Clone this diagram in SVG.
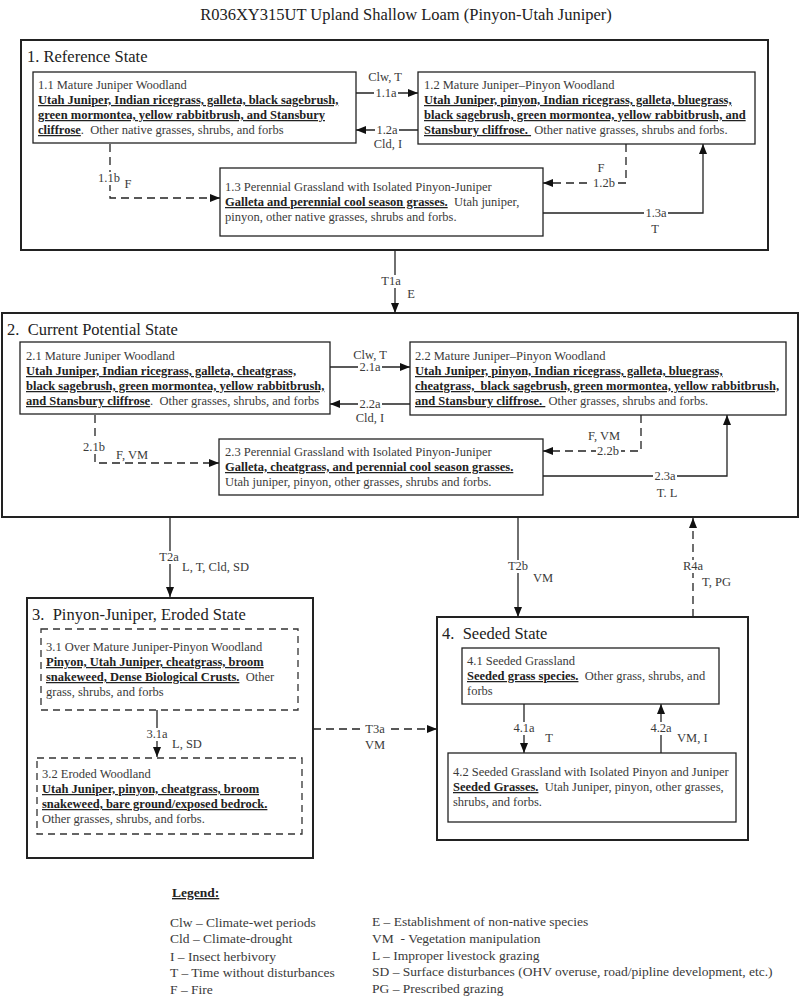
<svg xmlns="http://www.w3.org/2000/svg" width="800" height="1000" viewBox="0 0 800 1000">
<defs>
<marker id="arr" markerUnits="userSpaceOnUse" markerWidth="10" markerHeight="8" refX="10" refY="4" orient="auto"><path d="M0,0 L10,4 L0,8 z" fill="#111"/></marker>
<style>
text{font-family:"Liberation Serif","Times New Roman",serif;fill:#3a3a3a}
.t{font-size:12.5px}
.b{font-weight:bold;text-decoration:underline;fill:#222}
.st{font-size:16.5px;fill:#222}
.state{fill:none;stroke:#222;stroke-width:2}
.box{fill:#fff;stroke:#222;stroke-width:1.3}
.dbox{fill:#fff;stroke:#333;stroke-width:1.3;stroke-dasharray:7,5}
.c{fill:none;stroke:#222;stroke-width:1.3}
.d{stroke-dasharray:8,5}
.bg{fill:#fff}
.lbl{font-size:12.5px;fill:#3a3a3a}
.lg{font-size:13.5px}
</style>
</defs>
<rect width="800" height="1000" fill="#fff"/>
<text x="406" y="20" text-anchor="middle" style="font-size:16.5px;fill:#222">R036XY315UT Upland Shallow Loam (Pinyon-Utah Juniper)</text>

<g id="state1">
<rect class="state" x="21" y="40" width="747" height="210"/>
<text class="st" x="27" y="62">1. Reference State</text>
</g>
<g id="state2">
<rect class="state" x="2" y="313" width="796" height="204"/>
<text class="st" x="7" y="335">2.&#160; Current Potential State</text>
</g>
<g id="state3">
<rect class="state" x="27" y="598" width="286" height="260"/>
<text class="st" x="32" y="620">3.&#160; Pinyon-Juniper, Eroded State</text>
</g>
<g id="state4">
<rect class="state" x="437" y="617" width="311" height="223"/>
<text class="st" x="442" y="639">4.&#160; Seeded State</text>
</g>

<g id="connectors">
<path class="c" d="M356,93 H418" marker-end="url(#arr)"/>
<path class="c" d="M418,130 H356" marker-end="url(#arr)"/>
<path class="c d" d="M110,144 V198 H220" marker-end="url(#arr)"/>
<path class="c d" d="M626,144 V183 H543" marker-end="url(#arr)"/>
<path class="c" d="M543,213 H703 V144" marker-end="url(#arr)"/>
<path class="c" d="M395,250 V313" marker-end="url(#arr)"/>
<path class="c" d="M330,367 H410" marker-end="url(#arr)"/>
<path class="c" d="M410,404 H330" marker-end="url(#arr)"/>
<path class="c d" d="M95,415 V463 H219" marker-end="url(#arr)"/>
<path class="c d" d="M641,415 V451 H543" marker-end="url(#arr)"/>
<path class="c" d="M543,476 H727 V415" marker-end="url(#arr)"/>
<path class="c" d="M170,517 V597" marker-end="url(#arr)"/>
<path class="c" d="M518,517 V617" marker-end="url(#arr)"/>
<path class="c d" d="M693,617 V518" marker-end="url(#arr)"/>
<path class="c d" d="M313,729 H437" marker-end="url(#arr)"/>
<path class="c" d="M157,710 V757" marker-end="url(#arr)"/>
<path class="c" d="M524,704 V753" marker-end="url(#arr)"/>
<path class="c" d="M661,753 V704" marker-end="url(#arr)"/>
<rect class="bg" x="374" y="89" width="24" height="8"/>
<rect class="bg" x="375" y="126" width="24" height="8"/>
<rect class="bg" x="592" y="179" width="25" height="8"/>
<rect class="bg" x="644" y="209" width="24" height="8"/>
<rect class="bg" x="358" y="363" width="24" height="8"/>
<rect class="bg" x="358" y="400" width="24" height="8"/>
<rect class="bg" x="596" y="447" width="25" height="8"/>
<rect class="bg" x="653" y="472" width="24" height="8"/>
<rect class="bg" x="364" y="725" width="22" height="8"/>
<rect class="bg" x="106" y="172" width="8" height="13"/>
<rect class="bg" x="391" y="275" width="8" height="13"/>
<rect class="bg" x="91" y="441" width="8" height="13"/>
<rect class="bg" x="166" y="551" width="8" height="13"/>
<rect class="bg" x="514" y="560" width="8" height="13"/>
<rect class="bg" x="689" y="560" width="8" height="13"/>
<rect class="bg" x="153" y="728" width="8" height="13"/>
<rect class="bg" x="520" y="722" width="8" height="13"/>
<rect class="bg" x="657" y="722" width="8" height="13"/>
<text class="lbl" x="385" y="81" text-anchor="middle">Clw, T</text>
<text class="lbl" x="386" y="97" text-anchor="middle">1.1a</text>
<text class="lbl" x="387" y="134" text-anchor="middle">1.2a</text>
<text class="lbl" x="388" y="148" text-anchor="middle">Cld, I</text>
<text class="lbl" x="109" y="182" text-anchor="middle">1.1b</text>
<text class="lbl" x="128" y="188" text-anchor="middle">F</text>
<text class="lbl" x="604" y="187" text-anchor="middle">1.2b</text>
<text class="lbl" x="601" y="172" text-anchor="middle">F</text>
<text class="lbl" x="656" y="217" text-anchor="middle">1.3a</text>
<text class="lbl" x="655" y="233" text-anchor="middle">T</text>
<text class="lbl" x="391" y="285" text-anchor="middle">T1a</text>
<text class="lbl" x="411" y="298" text-anchor="middle">E</text>
<text class="lbl" x="370" y="359" text-anchor="middle">Clw, T</text>
<text class="lbl" x="370" y="371" text-anchor="middle">2.1a</text>
<text class="lbl" x="370" y="408" text-anchor="middle">2.2a</text>
<text class="lbl" x="370" y="422" text-anchor="middle">Cld, I</text>
<text class="lbl" x="94" y="451" text-anchor="middle">2.1b</text>
<text class="lbl" x="132" y="459" text-anchor="middle">F, VM</text>
<text class="lbl" x="608" y="455" text-anchor="middle">2.2b</text>
<text class="lbl" x="604" y="440" text-anchor="middle">F, VM</text>
<text class="lbl" x="665" y="480" text-anchor="middle">2.3a</text>
<text class="lbl" x="667" y="497" text-anchor="middle">T. L</text>
<text class="lbl" x="169" y="561" text-anchor="middle">T2a</text>
<text class="lbl" x="182" y="571">L, T, Cld, SD</text>
<text class="lbl" x="518" y="570" text-anchor="middle">T2b</text>
<text class="lbl" x="533" y="582">VM</text>
<text class="lbl" x="693" y="570" text-anchor="middle">R4a</text>
<text class="lbl" x="702" y="586">T, PG</text>
<text class="lbl" x="375" y="733" text-anchor="middle">T3a</text>
<text class="lbl" x="375" y="749" text-anchor="middle">VM</text>
<text class="lbl" x="157" y="738" text-anchor="middle">3.1a</text>
<text class="lbl" x="172" y="748">L, SD</text>
<text class="lbl" x="524" y="732" text-anchor="middle">4.1a</text>
<text class="lbl" x="549" y="742" text-anchor="middle">T</text>
<text class="lbl" x="661" y="732" text-anchor="middle">4.2a</text>
<text class="lbl" x="677" y="742">VM, I</text>
</g>

<g id="n11">
<rect class="box" x="33" y="72" width="323" height="71"/>
<text class="t" x="38" y="89">1.1 Mature Juniper Woodland</text>
<text class="t b" x="38" y="104">Utah Juniper, Indian ricegrass, galleta, black sagebrush,</text>
<text class="t b" x="38" y="119">green mormontea, yellow rabbitbrush, and Stansbury</text>
<text class="t" x="38" y="134"><tspan class="b">cliffrose</tspan>.&#160; Other native grasses, shrubs, and forbs</text>
</g>
<g id="n12">
<rect class="box" x="418" y="72" width="337" height="72"/>
<text class="t" x="424" y="89">1.2 Mature Juniper–Pinyon Woodland</text>
<text class="t b" x="424" y="104">Utah Juniper, pinyon, Indian ricegrass, galleta, bluegrass,</text>
<text class="t b" x="424" y="119">black sagebrush, green mormontea, yellow rabbitbrush, and</text>
<text class="t" x="424" y="134"><tspan class="b">Stansbury cliffrose.&#160;</tspan> Other native grasses, shrubs and forbs.</text>
</g>
<g id="n13">
<rect class="box" x="220" y="168" width="323" height="68"/>
<text class="t" x="225" y="191">1.3 Perennial Grassland with Isolated Pinyon-Juniper</text>
<text class="t" x="225" y="206"><tspan class="b">Galleta and perennial cool season grasses.</tspan>&#160; Utah juniper,</text>
<text class="t" x="225" y="221">pinyon, other native grasses, shrubs and forbs.</text>
</g>

<g id="n21">
<rect class="box" x="20" y="342" width="310" height="72"/>
<text class="t" x="26" y="360">2.1 Mature Juniper Woodland</text>
<text class="t b" x="26" y="375">Utah Juniper, Indian ricegrass, galleta, cheatgrass,</text>
<text class="t b" x="26" y="390">black sagebrush, green mormontea, yellow rabbitbrush,</text>
<text class="t" x="26" y="405"><tspan class="b">and Stansbury cliffrose</tspan>.&#160; Other grasses, shrubs, and forbs</text>
</g>
<g id="n22">
<rect class="box" x="410" y="342" width="376" height="73"/>
<text class="t" x="415" y="360">2.2 Mature Juniper–Pinyon Woodland</text>
<text class="t b" x="415" y="375">Utah Juniper, pinyon, Indian ricegrass, galleta, bluegrass,</text>
<text class="t b" x="415" y="390">cheatgrass,&#160; black sagebrush, green mormontea, yellow rabbitbrush,</text>
<text class="t" x="415" y="405"><tspan class="b">and Stansbury cliffrose.&#160;</tspan> Other grasses, shrubs and forbs.</text>
</g>
<g id="n23">
<rect class="box" x="219" y="439" width="324" height="56"/>
<text class="t" x="225" y="456">2.3 Perennial Grassland with Isolated Pinyon-Juniper</text>
<text class="t b" x="225" y="471">Galleta, cheatgrass, and perennial cool season grasses.</text>
<text class="t" x="225" y="486">Utah juniper, pinyon, other grasses, shrubs and forbs.</text>
</g>

<g id="n31">
<rect class="dbox" x="41" y="629" width="257" height="81"/>
<text class="t" x="46" y="651">3.1 Over Mature Juniper-Pinyon Woodland</text>
<text class="t b" x="46" y="666">Pinyon, Utah Juniper, cheatgrass, broom</text>
<text class="t" x="46" y="681"><tspan class="b">snakeweed, Dense Biological Crusts.</tspan>&#160; Other</text>
<text class="t" x="46" y="696">grass, shrubs, and forbs</text>
</g>
<g id="n32">
<rect class="dbox" x="37" y="758" width="265" height="76"/>
<text class="t" x="42" y="778">3.2 Eroded Woodland</text>
<text class="t b" x="42" y="793">Utah Juniper, pinyon, cheatgrass, broom</text>
<text class="t b" x="42" y="808">snakeweed, bare ground/exposed bedrock.</text>
<text class="t" x="42" y="823">Other grasses, shrubs, and forbs.</text>
</g>

<g id="n41">
<rect class="box" x="462" y="648" width="257" height="56"/>
<text class="t" x="467" y="665">4.1 Seeded Grassland</text>
<text class="t" x="467" y="680"><tspan class="b">Seeded grass species.</tspan>&#160; Other grass, shrubs, and</text>
<text class="t" x="467" y="695">forbs</text>
</g>
<g id="n42">
<rect class="box" x="448" y="753" width="288" height="69"/>
<text class="t" x="453" y="776">4.2 Seeded Grassland with Isolated Pinyon and Juniper</text>
<text class="t" x="453" y="791"><tspan class="b">Seeded Grasses.</tspan>&#160; Utah Juniper, pinyon, other grasses,</text>
<text class="t" x="453" y="806">shrubs, and forbs.</text>
</g>

<g id="legend">
<text class="lg b" x="172" y="897">Legend:</text>
<text class="lg" x="170" y="927">Clw – Climate-wet periods</text>
<text class="lg" x="170" y="943">Cld – Climate-drought</text>
<text class="lg" x="170" y="961">I – Insect herbivory</text>
<text class="lg" x="170" y="977">T – Time without disturbances</text>
<text class="lg" x="170" y="994">F – Fire</text>
<text class="lg" x="372" y="926">E – Establishment of non-native species</text>
<text class="lg" x="372" y="943">VM&#160; - Vegetation manipulation</text>
<text class="lg" x="372" y="960">L – Improper livestock grazing</text>
<text class="lg" x="372" y="976">SD – Surface disturbances (OHV overuse, road/pipline development, etc.)</text>
<text class="lg" x="372" y="993">PG – Prescribed grazing</text>
</g>
</svg>
